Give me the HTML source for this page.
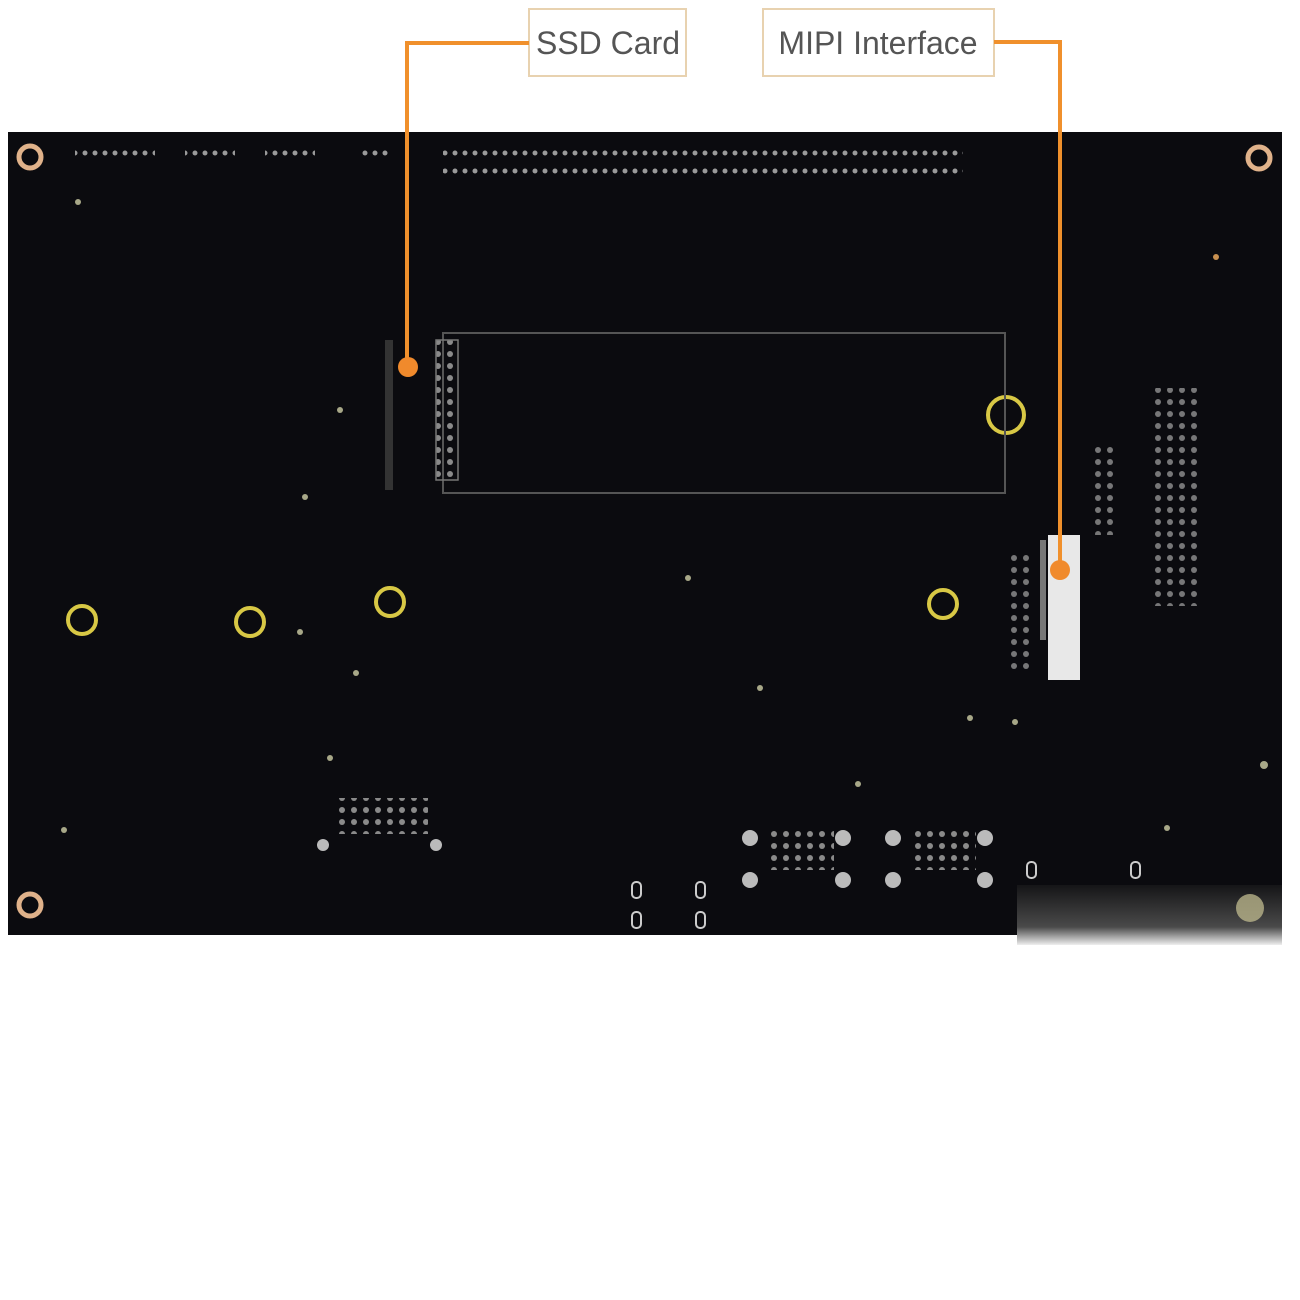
<!DOCTYPE html>
<html><head><style>body{margin:0;background:#fff}svg{display:block}</style></head><body>
<svg width="1300" height="1300" viewBox="0 0 1300 1300" xmlns="http://www.w3.org/2000/svg">
<defs>
<linearGradient id="fade" x1="0" y1="0" x2="0" y2="1"><stop offset="0" stop-color="#151517"/><stop offset="0.7" stop-color="#4a4a4a"/><stop offset="1" stop-color="#eeeeee"/></linearGradient>
<pattern id="dots" width="12" height="12" patternUnits="userSpaceOnUse"><circle cx="6" cy="6" r="3" fill="#8a8a8a"/></pattern>
<pattern id="dots2" width="10" height="18" patternUnits="userSpaceOnUse"><circle cx="5" cy="9" r="2.5" fill="#9a9a9a"/></pattern>
</defs>
<rect x="8" y="132" width="1274" height="803" fill="#0b0b0f"/>
<rect x="1017" y="885" width="265" height="60" fill="url(#fade)"/>
<circle cx="1250" cy="908" r="14" fill="#b8b38a" opacity="0.8"/>
<g fill="none" stroke="#e0b28a" stroke-width="5"><circle cx="30" cy="157" r="11"/><circle cx="1259" cy="158" r="11"/><circle cx="30" cy="905" r="11"/></g>
<g fill="none" stroke="#d8c845" stroke-width="4"><circle cx="1006" cy="415" r="18"/><circle cx="82" cy="620" r="14"/><circle cx="250" cy="622" r="14"/><circle cx="390" cy="602" r="14"/><circle cx="943" cy="604" r="14"/></g>
<rect x="443" y="333" width="562" height="160" fill="none" stroke="#555" stroke-width="2"/>
<rect x="436" y="340" width="22" height="140" fill="url(#dots)" stroke="#777" stroke-width="1.5"/>
<rect x="385" y="340" width="8" height="150" fill="#333"/>
<rect x="1048" y="535" width="32" height="145" fill="#e8e8e8"/>
<rect x="1040" y="540" width="6" height="100" fill="#777"/>
<g fill="#a8a888">
<circle cx="78" cy="202" r="3"/><circle cx="340" cy="410" r="3"/><circle cx="305" cy="497" r="3"/><circle cx="688" cy="578" r="3"/><circle cx="300" cy="632" r="3"/><circle cx="356" cy="673" r="3"/><circle cx="760" cy="688" r="3"/><circle cx="970" cy="718" r="3"/><circle cx="1015" cy="722" r="3"/><circle cx="330" cy="758" r="3"/><circle cx="858" cy="784" r="3"/><circle cx="64" cy="830" r="3"/><circle cx="1167" cy="828" r="3"/><circle cx="1264" cy="765" r="4"/><circle cx="1216" cy="257" r="3" fill="#c89050"/>
</g>
<g fill="#bbb">
<circle cx="750" cy="838" r="8"/><circle cx="843" cy="838" r="8"/><circle cx="750" cy="880" r="8"/><circle cx="843" cy="880" r="8"/>
<circle cx="893" cy="838" r="8"/><circle cx="985" cy="838" r="8"/><circle cx="893" cy="880" r="8"/><circle cx="985" cy="880" r="8"/>
<circle cx="323" cy="845" r="6"/><circle cx="436" cy="845" r="6"/>
</g>
<g fill="url(#dots)"><rect x="768" y="828" width="66" height="42"/><rect x="910" y="828" width="66" height="42"/><rect x="338" y="798" width="90" height="36"/></g>
<g fill="none" stroke="#ccc" stroke-width="2"><rect x="632" y="882" width="9" height="16" rx="4"/><rect x="696" y="882" width="9" height="16" rx="4"/><rect x="632" y="912" width="9" height="16" rx="4"/><rect x="696" y="912" width="9" height="16" rx="4"/><rect x="1027" y="862" width="9" height="16" rx="4"/><rect x="1131" y="862" width="9" height="16" rx="4"/></g>
<g fill="url(#dots2)">
<rect x="443" y="146" width="520" height="36"/>
<rect x="75" y="150" width="80" height="18"/><rect x="185" y="150" width="50" height="18"/><rect x="265" y="150" width="50" height="18"/><rect x="360" y="150" width="30" height="18"/>
</g>
<g fill="url(#dots)" opacity="0.85">
<rect x="1150" y="388" width="48" height="218"/>
<rect x="1005" y="550" width="30" height="120"/>
<rect x="1090" y="445" width="25" height="90"/>
</g>
<g font-family="'Liberation Sans',sans-serif" font-size="30" fill="#555">
<rect x="529" y="9" width="157" height="67" fill="#fff" stroke="#e8d2b0" stroke-width="2"/>
<text x="608" y="54" text-anchor="middle" font-size="32">SSD Card</text>
<rect x="763" y="9" width="231" height="67" fill="#fff" stroke="#e8d2b0" stroke-width="2"/>
<text x="878" y="54" text-anchor="middle" font-size="32">MIPI Interface</text>
</g>
<g fill="none" stroke="#f0902c" stroke-width="4">
<polyline points="529,43 407,43 407,367"/>
<polyline points="994,42 1060,42 1060,570"/>
</g>
<circle cx="408" cy="367" r="10" fill="#f08a2c"/>
<circle cx="1060" cy="570" r="10" fill="#f08a2c"/>
</svg>
</body></html>
